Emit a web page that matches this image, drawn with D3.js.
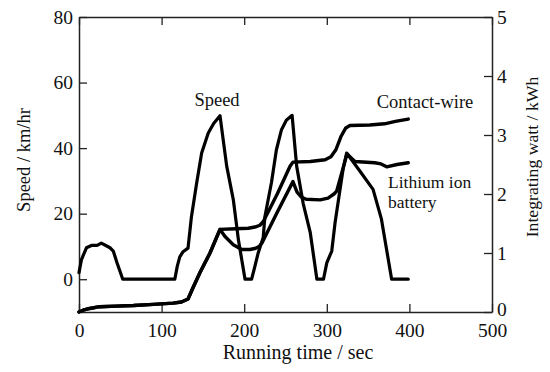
<!DOCTYPE html>
<html><head><meta charset="utf-8">
<script src="https://cdn.jsdelivr.net/npm/d3@7"></script>
<style>
html,body{margin:0;padding:0;background:#fff;}
svg{display:block;}
</style></head>
<body><svg id="c" width="550" height="372"></svg>
<script>
// ---- data ----
const xTicks = [0, 100, 200, 300, 400, 500];
const leftTicks = [0, 20, 40, 60, 80];
const rightTicks = [0, 1, 2, 3, 4, 5];

const speedT = [0, 3, 9, 15, 22, 27, 33, 37.5, 41.5, 46, 53, 116, 119, 122, 126, 132, 136, 142.5, 148.5, 156.5, 163, 170.7, 178.8, 186.8, 193, 201, 209, 213, 217, 223, 225, 233, 239, 245, 251, 258, 263.5, 271.5, 280, 288, 296, 300, 306, 310, 316, 320, 324, 340, 356, 366, 378.5, 398.6];
const speedV = [2, 6, 9.6, 10.3, 10.3, 11, 10.2, 9.6, 8.6, 5, 0, 0, 4, 6.8, 8.4, 9.5, 18.8, 29.4, 38.5, 44.6, 47.5, 49.9, 34.5, 24.3, 12, 0, 0, 4, 8.1, 12.7, 19, 29.5, 39.5, 45.5, 48.5, 50, 34.5, 23, 14.2, 0, 0, 5, 8.6, 17.2, 27.4, 34, 38.5, 33, 27.4, 18.5, 0, 0];

const wireT = [0, 5, 13, 25, 45, 66, 90, 114, 124, 132, 138, 146.5, 158.6, 170.7, 190, 205, 213, 219, 223, 240, 255.5, 259, 280, 298, 305, 311, 317, 323, 328, 352, 370, 383, 398.6];
const wireE = [0, 0.03, 0.06, 0.09, 0.1, 0.11, 0.13, 0.15, 0.17, 0.22, 0.41, 0.67, 1.0, 1.4, 1.41, 1.42, 1.44, 1.47, 1.53, 2.0, 2.47, 2.54, 2.55, 2.58, 2.63, 2.75, 2.97, 3.12, 3.16, 3.17, 3.19, 3.23, 3.27];

const battT = [0, 5, 13, 25, 45, 66, 90, 114, 124, 132, 138, 146.5, 158.6, 170.7, 176.8, 186.8, 197, 207, 214, 218, 221.5, 240, 259, 264, 269, 275, 292, 301.5, 308.7, 312, 324.5, 334, 358, 365.6, 372.5, 385, 398.6];
const battE = [0, 0.03, 0.06, 0.09, 0.1, 0.11, 0.13, 0.15, 0.17, 0.22, 0.41, 0.67, 1.0, 1.4, 1.28, 1.14, 1.06, 1.06, 1.08, 1.11, 1.17, 1.69, 2.21, 2.03, 1.95, 1.91, 1.90, 1.93, 2.0, 2.05, 2.68, 2.55, 2.53, 2.51, 2.46, 2.50, 2.53];

const labels = {speed: "Speed", wire: "Contact-wire", batt1: "Lithium ion", batt2: "battery"};
const xTitle = "Running time / sec", yTitleL = "Speed / km/hr", yTitleR = "Integrating watt / kWh";

// ---- layout ----
const L = 79, R = 492, T = 17, B = 312;
const FONT = "'Liberation Serif', 'Times New Roman', Times, serif";
const svg = d3.select("#c");
const x = d3.scaleLinear().domain([0, 500]).range([L, R]);
const yL = d3.scaleLinear().domain([-10, 80]).range([B, T]);
const yR = d3.scaleLinear().domain([0, 5]).range([B, T]);

function styleAxis(g){
  g.attr("font-family", FONT).attr("font-size", 19.5);
  g.selectAll("path.domain").attr("stroke", "#222").attr("stroke-width", 1.5);
  g.selectAll(".tick line").attr("stroke", "#222").attr("stroke-width", 1.3);
  g.selectAll("text").attr("font-family", FONT).attr("font-size", 19.5).attr("fill", "#111");
}
svg.append("g").attr("transform", `translate(0,${B})`)
  .call(d3.axisBottom(x).tickValues(xTicks).tickSizeInner(-8).tickSizeOuter(0).tickPadding(11).tickFormat(d3.format("d")))
  .call(styleAxis);
svg.append("g").attr("transform", `translate(0,${T})`)
  .call(d3.axisTop(x).tickValues(xTicks).tickSizeInner(-8).tickSizeOuter(0).tickFormat(""))
  .call(styleAxis);
svg.append("g").attr("transform", `translate(${L},0)`)
  .call(d3.axisLeft(yL).tickValues(leftTicks).tickSizeInner(-8).tickSizeOuter(0).tickPadding(6).tickFormat(d3.format("d")))
  .call(styleAxis);
const gr = svg.append("g").attr("transform", `translate(${R},0)`)
  .call(d3.axisRight(yR).tickValues(rightTicks).tickSizeInner(-8).tickSizeOuter(0).tickPadding(5).tickFormat(d3.format("d")))
  .call(styleAxis);
gr.selectAll(".tick").filter(d => d === 0).select("text").attr("dy", "0.2em");

// ---- lines ----
function draw(ts, vs, ys, w){
  const pts = ts.map((t, i) => [t, vs[i]]);
  svg.append("path").datum(pts)
    .attr("fill", "none").attr("stroke", "#000").attr("stroke-width", w)
    .attr("stroke-linejoin", "round").attr("stroke-linecap", "round")
    .attr("d", d3.line().x(d => x(d[0])).y(d => ys(d[1])));
}
draw(wireT, wireE, yR, 3.4);
draw(battT, battE, yR, 3.4);
draw(speedT, speedV, yL, 3.2);

// ---- text ----
function txt(){ return svg.append("text").attr("font-family", FONT).attr("fill", "#111"); }
txt().attr("x", 217).attr("y", 106).attr("text-anchor", "middle").attr("font-size", 18.5).text(labels.speed);
txt().attr("x", 425).attr("y", 108).attr("text-anchor", "middle").attr("font-size", 18.5).text(labels.wire);
txt().attr("x", 388).attr("y", 188).attr("font-size", 17.5).text(labels.batt1);
txt().attr("x", 388).attr("y", 208).attr("font-size", 17.5).text(labels.batt2);

txt().attr("x", 298).attr("y", 359).attr("text-anchor", "middle").attr("font-size", 20).text(xTitle);
txt().attr("transform", "translate(30,160) rotate(-90)").attr("text-anchor", "middle").attr("font-size", 18.5).text(yTitleL);
txt().attr("transform", "translate(538,157) rotate(-90)").attr("text-anchor", "middle").attr("font-size", 17.7).text(yTitleR);
</script></body></html>
